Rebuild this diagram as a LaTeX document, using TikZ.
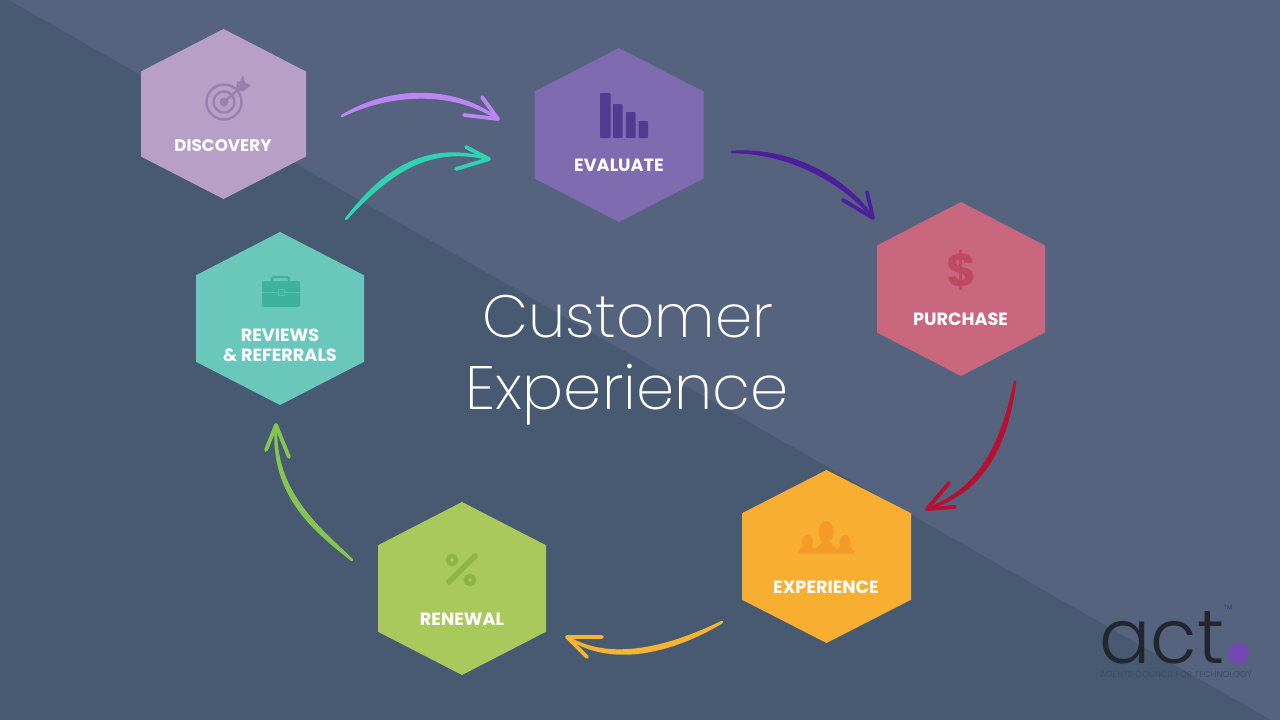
\documentclass[tikz,border=0pt]{standalone}
\usepackage{fontspec}
\usetikzlibrary{calc}
\setmainfont{Poppins}
\newfontfamily\titlefont{Poppins ExtraLight}
\newfontfamily\logofont{Poppins Light}
\definecolor{bglight}{HTML}{56637F}
\definecolor{bgdark}{HTML}{475A72}
\definecolor{hexdisc}{HTML}{B89FC6}
\definecolor{icodisc}{HTML}{9B7FAF}
\definecolor{hexeval}{HTML}{7F6BB0}
\definecolor{icoeval}{HTML}{4F3C92}
\definecolor{hexpurc}{HTML}{C9677F}
\definecolor{icopurc}{HTML}{BE4A62}
\definecolor{hexexpe}{HTML}{F8AE30}
\definecolor{icoexpe}{HTML}{F39A28}
\definecolor{hexrene}{HTML}{A9C95C}
\definecolor{icorene}{HTML}{8BB544}
\definecolor{hexrevi}{HTML}{69C8BB}
\definecolor{icorevi}{HTML}{3DB39E}
\definecolor{arrdisc}{HTML}{BC85F5}
\definecolor{arrrevi}{HTML}{2FD3B3}
\definecolor{arreval}{HTML}{4E1F9C}
\definecolor{arrpurc}{HTML}{B8102F}
\definecolor{arrexpe}{HTML}{F7B431}
\definecolor{arrrene}{HTML}{86C552}
\definecolor{logodark}{HTML}{23252F}
\definecolor{logodot}{HTML}{7348B0}
\definecolor{logotag}{HTML}{3E4D65}
\tikzset{
  hexlabel/.style={text=white,font=\bfseries\fontsize{17.7}{20}\selectfont,align=center,inner sep=0pt},
  titletext/.style={text=white,inner sep=0pt,anchor=base},
  barb/.style={line width=3.8pt,line cap=round,line join=round},
}
% hexagon: name, centre x, top y, bottom y, half width, colour
\newcommand{\hexa}[6]{%
  \pgfmathsetmacro{\hq}{(#4-#3)/4}%
  \fill[#6] (#2,#3) -- (#2+#5,#3+\hq) -- (#2+#5,#4-\hq) -- (#2,#4) -- (#2-#5,#4-\hq) -- (#2-#5,#3+\hq) -- cycle;
  \coordinate (#1) at (#2,{(#3+#4)/2});}
% swoosh arrow: colour, start, c1, c2, tip, barb1, barb2
\newcommand{\swoosh}[7]{%
  \coordinate (s) at #2; \coordinate (ca) at #3; \coordinate (cb) at #4; \coordinate (t) at #5;
  \coordinate (ba) at #6; \coordinate (bb) at #7;
  \filldraw[#1,line width=2.6pt,line join=round,line cap=round]
    (s) .. controls ($(ca)!2.2pt!90:(cb)$) and ($(cb)!2.2pt!-90:(ca)$) .. (t)
        .. controls ($(cb)!2.2pt!90:(ca)$) and ($(ca)!2.2pt!-90:(cb)$) .. (s) -- cycle;
  \draw[#1,barb] (ba) -- (t) -- (bb);}
\begin{document}
\begin{tikzpicture}[x=1pt,y=-1pt]
\useasboundingbox (0,0) rectangle (1280,720);
\fill[bglight] (0,0) rectangle (1280,720);
\fill[bgdark] (0,-5) -- (1280,725) -- (1280,720) -- (0,720) -- cycle;

% hexagons
\hexa{hdisc}{223.5}{29}{199}{82.5}{hexdisc}
\hexa{heval}{619}{48}{222}{84.5}{hexeval}
\hexa{hpurc}{961}{202}{376}{84}{hexpurc}
\hexa{hexpe}{826.5}{470}{643}{84.5}{hexexpe}
\hexa{hrene}{462}{502}{675}{84}{hexrene}
\hexa{hrevi}{280}{232}{405}{84}{hexrevi}

% labels
\node[hexlabel,font=\bfseries\fontsize{16.8}{20}\selectfont] (ldisc) at (223,146) {DISCOVERY};
\node[hexlabel] (leval) at (619,165.5) {EVALUATE};
\node[hexlabel] (lpurc) at (960.5,319) {PURCHASE};
\node[hexlabel] (lexpe) at (826,587) {EXPERIENCE};
\node[hexlabel] (lrene) at (462,619) {RENEWAL};
\node[hexlabel] (lrevi) at (280,345.5) {REVIEWS\\\& REFERRALS};

% target icon
\begin{scope}[icodisc]
\draw[line width=2.4pt] (224,102) circle (17.5);
\draw[line width=2.4pt] (224,102) circle (10.5);
\fill (224,102) circle (4.5);
\draw[line width=2.4pt] (224,102) -- (241,87);
\fill (236,89) -- (237,81) -- (240,82) -- (243,75) -- (245,83) -- (251,85) -- (244,91) -- (240,91) -- cycle;
\end{scope}
% bar icon
\fill[icoeval,rounded corners=.8pt] (600,93) rectangle (610.5,138);
\fill[icoeval,rounded corners=.8pt] (613,104) rectangle (622.5,138);
\fill[icoeval,rounded corners=.8pt] (626,112) rectangle (635.5,138);
\fill[icoeval,rounded corners=.8pt] (638.5,121) rectangle (648,138);
% dollar icon
\node[inner sep=0pt,text=icopurc,font=\bfseries\fontsize{46}{50}\selectfont] (idoll) at (961.5,270) {\$};
% people icon
\fill[icoexpe] (826,532) ellipse (7.5 and 11);
\fill[icoexpe] (813,553.5) .. controls (816,546) and (820,546) .. (826,538) .. controls (832,546) and (836,546) .. (839,553.5) -- cycle;
\fill[icoexpe] (807.5,542) ellipse (5.5 and 7);
\fill[icoexpe] (797,553.5) .. controls (799,547) and (803,548) .. (807,544) .. controls (811,548) and (816,548) .. (819,550) -- (813,553.5) -- cycle;
\fill[icoexpe] (845,542) ellipse (5.5 and 7);
\fill[icoexpe] (855.5,553.5) .. controls (853,547) and (849,548) .. (845,544) .. controls (841,548) and (837,548) .. (834,550) -- (840,553.5) -- cycle;
% percent icon
\draw[icorene,line width=5.5pt,line cap=round] (449,582) -- (475,556);
\draw[icorene,line width=4.2pt] (452,560) circle (4.2);
\draw[icorene,line width=4.2pt] (470,580) circle (4.2);
% briefcase icon
\fill[icorevi,rounded corners=1.5pt] (262,281) rectangle (300,307);
\draw[icorevi,line width=2.4pt,rounded corners=1.5pt] (272,281) -- (272,277) -- (289,277) -- (289,281);
\draw[hexrevi!60!icorevi,line width=.7pt] (262,292) -- (277,292) (285,292) -- (300,292);
\draw[hexrevi!60!icorevi,line width=.7pt] (278,289.5) rectangle (284,295);

% title
\node[titletext,font=\titlefont\fontsize{59.7}{70}\selectfont] (title1) at (628,337) {Customer};
\node[titletext,font=\titlefont\fontsize{61.2}{72}\selectfont] (title2) at (627.5,409) {Experience};

% arrows
\swoosh{arrdisc}{(342,116)}{(385,92)}{(450,85)}{(498,119)}{(482,97)}{(464,115)}
\swoosh{arrrevi}{(346,219)}{(378,182)}{(420,140)}{(489,159)}{(466,147)}{(456,169)}
\swoosh{arreval}{(732,152)}{(790,150)}{(845,180)}{(873,218)}{(867,192)}{(843,200)}
\swoosh{arrpurc}{(1015,382)}{(1005,440)}{(985,490)}{(927,509)}{(949,483)}{(955,507)}
\swoosh{arrexpe}{(722,622)}{(680,645)}{(615,668)}{(567,637)}{(602,637)}{(587,657)}
\swoosh{arrrene}{(352,560)}{(318,530)}{(272,495)}{(276,425)}{(266,450)}{(289,457)}

% logo
\node[inner sep=0pt,anchor=base west,text=logodark,font=\logofont\fontsize{76}{80}\selectfont] (logo) at (1099,663) {act};
\fill[logodot] (1238.5,654) circle (10.5);
\node[inner sep=0pt,text=logodark!60!bglight,font=\fontsize{6}{7}\selectfont] (logotm) at (1228,607) {TM};
\node[inner sep=0pt,text=logotag,font=\fontsize{8.7}{9}\selectfont] (logotagline) at (1176,674.5) {AGENTS COUNCIL FOR TECHNOLOGY};
\end{tikzpicture}
\end{document}
